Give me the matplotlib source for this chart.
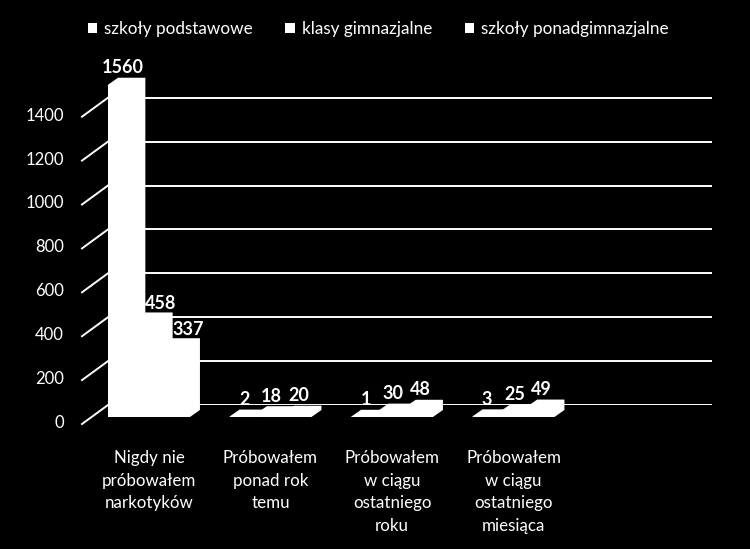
import matplotlib
matplotlib.use('Agg')
import matplotlib.pyplot as plt
from matplotlib.patches import Polygon, Patch
from matplotlib.lines import Line2D
import matplotlib.transforms as mtransforms
import numpy as np

# ---------------- data ----------------
categories = ["Nigdy nie\npróbowałem\nnarkotyków",
              "Próbowałem\nponad rok\ntemu",
              "Próbowałem\nw ciągu\nostatniego\nroku",
              "Próbowałem\nw ciągu\nostatniego\nmiesiąca"]
series_names = ["szkoły podstawowe", "klasy gimnazjalne", "szkoły ponadgimnazjalne"]
podstawowe = [1560, 2, 1, 3]
gimnazjalne = [458, 18, 30, 25]
ponadgimnazjalne = [337, 20, 48, 49]
y_ticks = [0, 200, 400, 600, 800, 1000, 1200, 1400]

# ---------------- layout ----------------
W, H, DPI = 750, 549, 100
plt.rcParams['font.family'] = ['Lato', 'DejaVu Sans']
fig = plt.figure(figsize=(W / DPI, H / DPI), dpi=DPI, facecolor='black')
ID = mtransforms.IdentityTransform()


def box(x0, ytop, x1, ybot):
    return [x0 / W, 1 - ybot / H, (x1 - x0) / W, (ybot - ytop) / H]


# back wall (gridlines + value axis)
wall_left, wall_right, wall_base, wall_top = 108, 712, 405, 40
wall_scale = 0.2195  # px per unit
axw = fig.add_axes(box(wall_left, wall_top, wall_right, wall_base))
axw.set_facecolor('none')
axw.set_ylim(0, (wall_base - wall_top) / wall_scale)
axw.set_xlim(0, 1)
axw.axis('off')

ylab_tr = axw.get_yaxis_transform() + mtransforms.ScaledTranslation(-44 / DPI, -18 / DPI, fig.dpi_scale_trans)
for v in y_ticks:
    axw.axhline(v, color='white', lw=1.4, zorder=1)
    axw.text(0, v, str(v), transform=ylab_tr, ha='right', va='center',
             fontsize=12, color='white')
    px, py = axw.transData.transform((0, v))
    axw.add_line(Line2D([px - 26, px], [py - 19, py], transform=ID, color='white',
                        lw=1.4, clip_on=False))

# bars (front)
bar_left, bar_right, bar_base, bar_top = 82, 712, 417, 40
bar_scale = 0.213
grp_pitch, grp0_center = 121.5, 149
axb = fig.add_axes(box(bar_left, bar_top, bar_right, bar_base))
axb.set_facecolor('none')
axb.set_ylim(0, (bar_base - bar_top) / bar_scale)
axb.set_xlim((bar_left - grp0_center) / grp_pitch, (bar_right - grp0_center) / grp_pitch)
for s in axb.spines.values():
    s.set_visible(False)
axb.set_yticks([])

w = 27.3 / grp_pitch
depth_dx, depth_dy = 10, 7
x = np.arange(len(categories))
axb.set_xticks(x)
axb.set_xticklabels(categories, fontsize=12.2, color='white', linespacing=1.5, va='top')
axb.tick_params(axis='x', length=0, pad=24)

all_series = [podstawowe, gimnazjalne, ponadgimnazjalne]
for j, vals in enumerate(all_series):
    bc = axb.bar(x + (j - 1) * w, vals, width=w, color='white', lw=0,
                 label=series_names[j], zorder=2)
    for rect in bc:
        xl, xr, h = rect.get_x(), rect.get_x() + rect.get_width(), rect.get_height()
        (x0, y0), (x1, y1) = axb.transData.transform([(xl, 0), (xr, h)])
        poly = Polygon([(x0, y0), (x1, y0), (x1 + depth_dx, y0 + depth_dy),
                        (x1 + depth_dx, y1 + depth_dy), (x0 + depth_dx, y1 + depth_dy),
                        (x0, y1)], closed=True, transform=ID, facecolor='white',
                       edgecolor='none', clip_on=False, zorder=2)
        axb.add_patch(poly)

# data labels
for i in range(len(categories)):
    for j, vals in enumerate(all_series):
        v = vals[i]
        xc = x[i] + (j - 1) * w
        if j > 0 and all_series[j - 1][i] > v:
            axb.annotate(str(v), xy=(xc - w / 2, v), xytext=(depth_dx, 16),
                         textcoords='offset pixels', ha='left', va='center',
                         fontsize=13, fontweight='bold', color='white', zorder=5)
        else:
            axb.annotate(str(v), xy=(xc, v), xytext=(1, 17),
                         textcoords='offset pixels', ha='center', va='center',
                         fontsize=13, fontweight='bold', color='white', zorder=5)

# legend
handles = [Patch(facecolor='white', edgecolor='none') for _ in series_names]
fig.legend(handles, series_names, loc='center left', bbox_to_anchor=(88 / W, 1 - 29 / H),
           ncol=3, frameon=False, fontsize=12.3, labelcolor='white',
           handlelength=0.55, handleheight=0.6, handletextpad=0.4,
           columnspacing=1.9, borderpad=0, borderaxespad=0)

fig.savefig('out.png', dpi=DPI, facecolor='black')
